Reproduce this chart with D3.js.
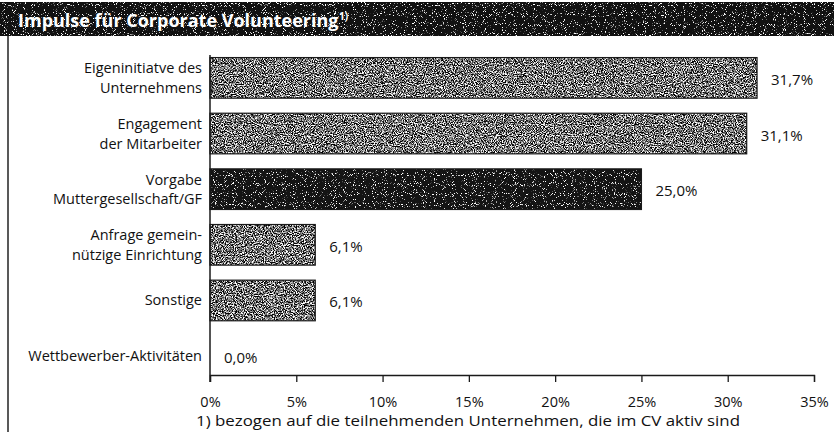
<!DOCTYPE html>
<html>
<head>
<meta charset="utf-8">
<script src="https://cdn.jsdelivr.net/npm/d3@7"></script>
<style>
  body { margin: 0; background: #fff; }
  text { font-family: "Open Sans", "Noto Sans", sans-serif; fill: #111; }
</style>
</head>
<body>
<svg width="834" height="432"></svg>
<script>
// data
const categories = [
    ["Eigeninitiatve des", "Unternehmens"],
    ["Engagement", "der Mitarbeiter"],
    ["Vorgabe", "Muttergesellschaft/GF"],
    ["Anfrage gemein-", "nützige Einrichtung"],
    ["Sonstige"],
    ["Wettbewerber-Aktivitäten"]
];
const values = [31.7, 31.1, 25.0, 6.1, 6.1, 0.0];
const highlight = [false, false, true, false, false, false];
const tickValues = [0, 5, 10, 15, 20, 25, 30, 35];

const svg = d3.select("svg"),
    width = +svg.attr("width"),
    height = +svg.attr("height");

const x = d3.scaleLinear().domain([0, 35]).range([210, 814]);
const y = d3.scaleBand().domain(d3.range(values.length)).range([52, 382]).paddingInner(0.27).paddingOuter(0.1);
const axisY = 375;

// scan-like textures
const defs = svg.append("defs");
// sparse white specks on dark fills
const speck = defs.append("filter").attr("id", "speck")
    .attr("x", 0).attr("y", 0).attr("width", 1).attr("height", 1)
    .attr("color-interpolation-filters", "sRGB");
speck.append("feTurbulence").attr("type", "fractalNoise").attr("baseFrequency", 1.1).attr("numOctaves", 1).attr("seed", 3).attr("result", "n");
speck.append("feColorMatrix").attr("in", "n").attr("type", "matrix")
    .attr("values", "0 0 0 0 1  0 0 0 0 1  0 0 0 0 1  0 0 0 12 -7.4").attr("result", "w");
speck.append("feComposite").attr("in", "w").attr("in2", "SourceGraphic").attr("operator", "in").attr("result", "dots");
speck.append("feMerge").call(m => {
    m.append("feMergeNode").attr("in", "SourceGraphic");
    m.append("feMergeNode").attr("in", "dots");
});
// black/white mottling for the grey bars
const mottle = defs.append("filter").attr("id", "mottle")
    .attr("x", 0).attr("y", 0).attr("width", 1).attr("height", 1)
    .attr("color-interpolation-filters", "sRGB");
mottle.append("feTurbulence").attr("type", "fractalNoise").attr("baseFrequency", 0.9).attr("numOctaves", 2).attr("seed", 7).attr("result", "n");
mottle.append("feColorMatrix").attr("in", "n").attr("type", "matrix")
    .attr("values", "3.5 0 0 0 -1.3  3.5 0 0 0 -1.3  3.5 0 0 0 -1.3  0 0 0 0 1").attr("result", "g");
mottle.append("feComposite").attr("in", "g").attr("in2", "SourceGraphic").attr("operator", "in");

// title bar
svg.append("rect")
    .attr("x", 0).attr("y", 2)
    .attr("width", width).attr("height", 34)
    .attr("fill", "#111")
    .attr("filter", "url(#speck)");
svg.append("text")
    .attr("x", 18).attr("y", 27)
    .style("font-size", "18px")
    .style("font-weight", "bold")
    .style("fill", "#fff")
    .text("Impulse für Corporate Volunteering");
svg.append("text")
    .attr("x", 339).attr("y", 20)
    .style("font-size", "10px")
    .style("font-weight", "bold")
    .style("fill", "#fff")
    .text("1)");

// left frame line
svg.append("line")
    .attr("x1", 8).attr("x2", 8)
    .attr("y1", 36).attr("y2", height)
    .attr("stroke", "#222").attr("stroke-width", 1.5);

// bars
svg.append("g")
    .selectAll("rect")
    .data(values)
    .join("rect")
    .attr("x", x(0))
    .attr("y", (d, i) => y(i))
    .attr("width", d => x(d) - x(0))
    .attr("height", y.bandwidth())
    .attr("fill", (d, i) => highlight[i] ? "#141414" : "#8e8e8e")
    .attr("filter", (d, i) => highlight[i] ? "url(#speck)" : "url(#mottle)");
svg.append("g")
    .selectAll("rect")
    .data(values.filter(d => d > 0))
    .join("rect")
    .attr("x", x(0))
    .attr("y", (d, i) => y(i))
    .attr("width", d => x(d) - x(0))
    .attr("height", y.bandwidth())
    .attr("fill", "none")
    .attr("stroke", "#1a1a1a")
    .attr("stroke-width", 1.2);

// value labels
svg.append("g")
    .selectAll("text")
    .data(values)
    .join("text")
    .attr("x", d => x(d) + 14)
    .attr("y", (d, i) => y(i) + y.bandwidth() / 2 + 7)
    .style("font-size", "15px")
    .text(d => d.toFixed(1).replace(".", ",") + "%");

// category labels
const cat = svg.append("g")
    .selectAll("text")
    .data(categories)
    .join("text")
    .attr("text-anchor", "end")
    .style("font-size", "14.5px")
    .attr("y", (d, i) => y(i) + y.bandwidth() / 2 + 5 - (d.length - 1) * 9.5);
cat.selectAll("tspan")
    .data(d => d)
    .join("tspan")
    .attr("x", 202)
    .attr("dy", (d, i) => i === 0 ? 0 : 19.5)
    .text(d => d);

// axes
const xAxis = svg.append("g")
    .attr("transform", `translate(0,${axisY})`)
    .call(d3.axisBottom(x).tickValues(tickValues).tickSize(7).tickPadding(15).tickFormat(d => d + "%"));
xAxis.select(".domain").attr("stroke", "#1a1a1a").attr("stroke-width", 1.3);
xAxis.selectAll(".tick line").attr("stroke", "#1a1a1a").attr("stroke-width", 1.3);
xAxis.selectAll(".tick text")
    .style("font-family", "\"Open Sans\", sans-serif")
    .style("font-size", "14.5px")
    .attr("fill", "#111");

svg.append("line")
    .attr("x1", x(0)).attr("x2", x(0))
    .attr("y1", 55).attr("y2", axisY + 7)
    .attr("stroke", "#1a1a1a").attr("stroke-width", 1.5);

// footnote
svg.append("text")
    .attr("x", 196).attr("y", 426)
    .style("font-size", "15px")
    .attr("textLength", 544)
    .attr("lengthAdjust", "spacingAndGlyphs")
    .text("1) bezogen auf die teilnehmenden Unternehmen, die im CV aktiv sind");
</script>
</body>
</html>
